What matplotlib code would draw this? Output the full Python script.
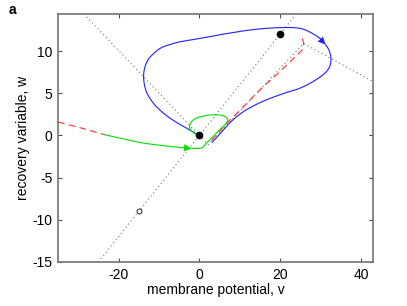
import numpy as np
import matplotlib
matplotlib.use('Agg')
import matplotlib.pyplot as plt

plt.rcParams['font.family'] = ['Liberation Sans', 'DejaVu Sans']
plt.rcParams['axes.unicode_minus'] = False

# nullclines (dotted grey)
w_null_v = [-25, 24]
w_null_w = [-15, 14.4]
v_null_v = [-28.6, 2.2, 25.8, 43]
v_null_w = [14.4, -1.1, 10.9, 6.4]

# equilibria
stable_v, stable_w = [0, 20], [0, 12]
open_v, open_w = [-15], [-9]

# blue trajectory (clockwise loop from the saddle)
blue_v = [0, -3.2, -7.3, -10.6, -12.5, -13.4, -13.8, -13.6, -12.9, -12.0,
          -9.8, -7.5, -4.8, 0.1, 4.0, 8.3, 12.5, 16.7, 21.6, 24.9, 27.2, 29.6,
          31.2, 32.2, 32.6, 32.2, 30.9, 28.2, 24.9, 21.0, 16.0, 11.5,
          8.2, 5.5, 3.2]
blue_w = [0, 0.87, 2.06, 3.4, 4.6, 5.6, 6.8, 7.9, 8.8, 9.4,
          10.3, 10.75, 11.1, 11.5, 11.85, 12.2, 12.5, 12.7, 12.8, 12.7, 12.3, 11.6,
          10.8, 10.0, 9.0, 8.1, 7.3, 6.4, 5.6, 5.0, 4.1, 3.0,
          1.8, 0.4, -0.8]

# green trajectory
green_v = [-23.4, -18, -13.9, -10, -7.3, -4, -2, 0, 0.8, 1.8, 3.0, 4.2, 5.4, 6.4,
           7.0, 6.8, 5.8, 4.3, 2.5, 1.0, -0.5, -1.7, -2.4, -2.2, -1.4, 0]
green_w = [0.08, -0.5, -0.9, -1.15, -1.3, -1.45, -1.53, -1.53, -1.4, -0.9, -0.3,
           0.3, 0.85, 1.3, 1.75, 2.1, 2.35, 2.45, 2.42, 2.3, 2.1, 1.75, 1.2,
           0.7, 0.3, 0]

# red dashed separatrix pieces
red_left_v = [-35, -29, -23.4]
red_left_w = [1.6, 0.85, 0.08]
red_right_v = [3.0, 6.75, 10.9, 15, 20, 24.3, 25.5, 25.8, 25.4]
red_right_w = [-0.6, 1.4, 3.4, 5.4, 7.6, 9.6, 10.2, 10.9, 11.6]

blue_arrow_idx = 22
green_arrow_idx = 6


def smooth(xs, ys, n=12):
    # Catmull-Rom through the read points, only for drawing
    p = np.column_stack([xs, ys]).astype(float)
    p = np.vstack([p[0], p, p[-1]])
    out = []
    t = np.linspace(0, 1, n, endpoint=False)[:, None]
    for k in range(1, len(p) - 2):
        p0, p1, p2, p3 = p[k - 1], p[k], p[k + 1], p[k + 2]
        seg = 0.5 * ((2 * p1) + (-p0 + p2) * t + (2 * p0 - 5 * p1 + 4 * p2 - p3) * t ** 2
                     + (-p0 + 3 * p1 - 3 * p2 + p3) * t ** 3)
        out.append(seg)
    out.append(p[-2][None, :])
    out = np.vstack(out)
    return out[:, 0], out[:, 1]


fig = plt.figure(figsize=(4.07, 3.06), dpi=100)
ax = fig.add_axes([0.1425, 0.1438, 0.774, 0.8105])

dot = dict(color='0.45', lw=0.8, linestyle=(0, (1, 2.6)))
ax.plot(w_null_v, w_null_w, **dot)
ax.plot(v_null_v, v_null_w, **dot)

ax.plot(red_left_v, red_left_w, color='#ff3030', lw=0.8, linestyle=(0, (6, 4)))
ax.plot(*smooth(red_right_v, red_right_w), color='#ff3030', lw=0.8, linestyle=(0, (6, 4)))
ax.plot(*smooth(blue_v, blue_w), color='#1f1fff', lw=0.8)
ax.plot(*smooth(green_v, green_w), color='#00e000', lw=0.8)

i = blue_arrow_idx
ax.annotate('', xy=(blue_v[i], blue_w[i]), xytext=(blue_v[i - 1], blue_w[i - 1]),
            arrowprops=dict(arrowstyle='-|>', color='#1f1fff', lw=0, mutation_scale=13,
                            shrinkA=0, shrinkB=0))
i = green_arrow_idx
ax.annotate('', xy=(green_v[i], green_w[i]), xytext=(green_v[i - 1], green_w[i - 1]),
            arrowprops=dict(arrowstyle='-|>', color='#00e000', lw=0, mutation_scale=13,
                            shrinkA=0, shrinkB=0))

ax.plot(stable_v, stable_w, 'o', color='black', markersize=4.5)
ax.plot(open_v, open_w, 'o', mfc='white', mec='black', mew=0.6, markersize=3.6)

ax.set_xlim(-35, 43)
ax.set_ylim(-15, 14.4)
ax.set_xticks([-20, 0, 20, 40])
ax.set_yticks([-15, -10, -5, 0, 5, 10])
ax.tick_params(direction='in', length=3, width=0.8, color='0.3', labelsize=10,
               top=True, right=True, pad=4)
for s in ax.spines.values():
    s.set_color('0.45')
    s.set_linewidth(1.2)
ax.set_xlabel('membrane potential, v', fontsize=10, labelpad=1)
ax.set_ylabel('recovery variable, w', fontsize=10, labelpad=2)
fig.text(0.022, 0.955, 'a', fontsize=10, fontweight='bold')

fig.savefig('out.png', dpi=100)
